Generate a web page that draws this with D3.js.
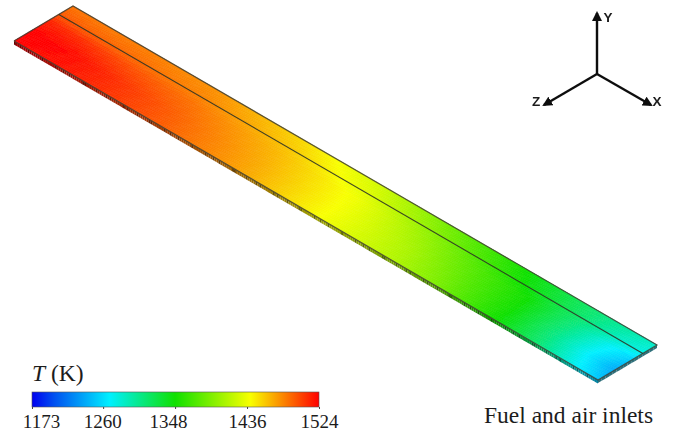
<!DOCTYPE html>
<html>
<head>
<meta charset="utf-8">
<script src="https://cdn.jsdelivr.net/npm/d3@7"></script>
<style>
html, body { margin: 0; padding: 0; background: #fff; }
svg { display: block; }
text { fill: #1c1c1c; }
.serif { font-family: "Liberation Serif", serif; }
.sans { font-family: "Liberation Sans", sans-serif; font-weight: bold; }
</style>
</head>
<body>
<svg id="svg" width="673" height="437"></svg>
<script>
// colorbar
const legendTicks = [1173, 1260, 1348, 1436, 1524];
const legendLabelShift = [9, -1, -7, 0, 0];
const rainbowTemps = [1173, 1200, 1268, 1348, 1440, 1524];
const rainbowColors = ["#0000f0", "#0050f0", "#00f0ff", "#10e000", "#f8ff00", "#ff0000"];

// temperature, stations run from the hot end to the inlet end
const stations = [0, 0.06, 0.14, 0.25, 0.4, 0.53, 0.65, 0.72, 0.82, 0.9, 0.96, 1];
const across = [0, 0.3, 0.6, 0.76, 1];
const plateT = [
    [1522, 1524, 1512, 1496, 1486],
    [1520, 1522, 1508, 1492, 1484],
    [1510, 1510, 1498, 1488, 1482],
    [1494, 1492, 1486, 1480, 1476],
    [1468, 1466, 1462, 1458, 1452],
    [1438, 1438, 1436, 1430, 1424],
    [1412, 1408, 1400, 1394, 1386],
    [1392, 1385, 1378, 1372, 1366],
    [1350, 1350, 1348, 1340, 1336],
    [1310, 1305, 1308, 1312, 1312],
    [1272, 1264, 1272, 1286, 1296],
    [1250, 1238, 1256, 1276, 1285]
];

const width = 673, height = 437;
const svg = d3.select("#svg");

const color = d3.scaleLinear().domain(rainbowTemps).range(rainbowColors).clamp(true);

// plate is a flat sheet in isometric view: u along the length, v across the width
const xU = d3.scaleLinear().domain([0, 1]).range([14, 598]);
const yU = d3.scaleLinear().domain([0, 1]).range([41, 380]);
const xV = d3.scaleLinear().domain([0, 1]).range([0, 59]);
const yV = d3.scaleLinear().domain([0, 1]).range([0, -35]);
const project = (u, v, drop = 0) => [xU(u) + xV(v), yU(u) + yV(v) + drop];

function bracket(list, val) {
    let i = d3.bisectRight(list, val) - 1;
    i = Math.max(0, Math.min(list.length - 2, i));
    return [i, (val - list[i]) / (list[i + 1] - list[i])];
}
function tempAt(u, v) {
    const [i, a] = bracket(stations, u);
    const [j, b] = bracket(across, v);
    const low = plateT[i][j] * (1 - b) + plateT[i][j + 1] * b;
    const high = plateT[i + 1][j] * (1 - b) + plateT[i + 1][j + 1] * b;
    return low * (1 - a) + high * a;
}

const line = d3.line();
const defs = svg.append("defs");
const soft = defs.append("filter").attr("id", "soft");
soft.append("feGaussianBlur").attr("stdDeviation", 0.6);
const textSoft = defs.append("filter").attr("id", "textSoft");
textSoft.append("feGaussianBlur").attr("stdDeviation", 0.3);

// side wall below the front edge, mottled like the reference
const stepsU = 300, stepsV = 16;
const side = svg.append("g").attr("filter", "url(#soft)");
d3.range(stepsU).forEach(k => {
    const u0 = k / stepsU, u1 = (k + 1) / stepsU;
    const dark = (k % 7 == 0 || k % 11 == 3) ? 2.4 : 1.3;
    side.append("path")
        .attr("d", line([project(u0, 0), project(u1, 0), project(u1, 0, 3.6), project(u0, 0, 3.6)]) + "Z")
        .attr("fill", d3.color(color(tempAt(u0, 0))).darker(dark));
});
d3.range(stepsV).forEach(k => {
    const v0 = k / stepsV, v1 = (k + 1) / stepsV;
    side.append("path")
        .attr("d", line([project(1, v0), project(1, v1), project(1, v1, 3), project(1, v0, 3)]) + "Z")
        .attr("fill", "#2f6f7a");
});

// plate top face
const face = svg.append("g").attr("filter", "url(#soft)");
d3.range(stepsU).forEach(a => {
    d3.range(stepsV).forEach(b => {
        const u0 = a / stepsU, u1 = (a + 1) / stepsU, v0 = b / stepsV, v1 = (b + 1) / stepsV;
        const c = color(tempAt((u0 + u1) / 2, (v0 + v1) / 2));
        face.append("path")
            .attr("d", line([project(u0, v0), project(u1, v0), project(u1, v1), project(u0, v1)]) + "Z")
            .attr("fill", c)
            .attr("stroke", c)
            .attr("stroke-width", 0.6);
    });
});

// outlines and the channel rib line
const edges = svg.append("g").attr("fill", "none").attr("filter", "url(#textSoft)");
edges.append("path")
    .attr("d", line([project(0, 0), project(0, 1), project(1, 1), project(1, 0), project(0, 0)]))
    .attr("stroke", "#3c3c30")
    .attr("stroke-opacity", 0.85)
    .attr("stroke-width", 1.2);
edges.append("path")
    .attr("d", line([project(0, 0.76), project(1, 0.76)]))
    .attr("stroke", "#2c3226")
    .attr("stroke-opacity", 0.9)
    .attr("stroke-width", 1.1);

// coordinate triad
const triad = svg.append("g").attr("class", "triad").attr("filter", "url(#textSoft)");
const marker = defs.append("marker")
    .attr("id", "tip").attr("markerUnits", "userSpaceOnUse")
    .attr("viewBox", "0 0 10 10").attr("refX", 8).attr("refY", 5)
    .attr("markerWidth", 10).attr("markerHeight", 10).attr("orient", "auto");
marker.append("path").attr("d", "M0,0L10,5L0,10Z").attr("fill", "#111");
const triadOrigin = [597, 74];
const triadTips = [[597, 13], [651, 105], [544, 105]];
const triadNames = ["Y", "X", "Z"];
const triadLabels = [[608, 22], [657, 106], [536, 106]];
triadTips.forEach((tip, i) => {
    triad.append("line")
        .attr("x1", triadOrigin[0]).attr("y1", triadOrigin[1])
        .attr("x2", tip[0]).attr("y2", tip[1])
        .attr("stroke", "#111").attr("stroke-width", 2.4)
        .attr("marker-end", "url(#tip)");
    triad.append("text").attr("class", "sans")
        .attr("x", triadLabels[i][0]).attr("y", triadLabels[i][1])
        .attr("text-anchor", "middle").attr("font-size", 13.5)
        .text(triadNames[i]);
});

// colorbar
const barX = d3.scaleLinear().domain([1173, 1524]).range([32, 319]);
const barTop = 392, barH = 15;
const grad = defs.append("linearGradient").attr("id", "rainbow");
rainbowTemps.forEach((t, i) => {
    grad.append("stop")
        .attr("offset", (t - 1173) / (1524 - 1173))
        .attr("stop-color", rainbowColors[i]);
});
svg.append("rect")
    .attr("x", barX.range()[0]).attr("y", barTop)
    .attr("width", barX.range()[1] - barX.range()[0]).attr("height", barH)
    .attr("fill", "url(#rainbow)")
    .attr("stroke", "#555").attr("stroke-width", 0.6);
const axis = svg.append("g")
    .attr("transform", `translate(0,${barTop + barH})`)
    .call(d3.axisBottom(barX).tickValues(legendTicks).tickFormat(d3.format("d")).tickSize(2).tickSizeOuter(0));
axis.select(".domain").remove();
axis.selectAll("line").attr("stroke", "#444");
axis.selectAll("text")
    .attr("class", "serif")
    .attr("font-size", 19)
    .attr("y", 8)
    .attr("dx", (d, i) => legendLabelShift[i]);

const title = svg.append("text").attr("class", "serif")
    .attr("x", 32).attr("y", 381).attr("font-size", 23.5);
title.append("tspan").attr("font-style", "italic").text("T");
title.append("tspan").text(" (K)");

svg.append("text").attr("class", "serif")
    .attr("x", 484).attr("y", 422.5).attr("font-size", 23.5)
    .text("Fuel and air inlets");
</script>
</body>
</html>
